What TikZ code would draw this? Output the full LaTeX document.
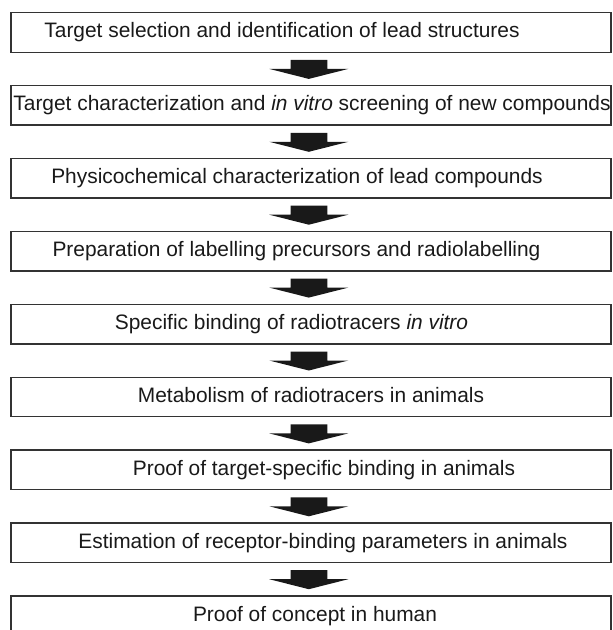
\documentclass[tikz,border=0pt]{standalone}
\usepackage{fontspec}
\setmainfont{Liberation Sans}
\usepackage{tikz}
\usetikzlibrary{calc,positioning}

% move the text of a box sideways, keeping the box centred
\newcommand{\nudge}[2]{\hspace*{#1}#2\hspace*{-#1}}

\tikzset{
	stagebox/.style={draw=black!80,line width=1.4pt,minimum width=600pt,minimum height=39.5pt,inner sep=0pt,text height=15.3pt,text depth=4.4pt,text=black!90},
	blockarrow/.style={fill=black!90,to path={
		($(\tikztostart.south)+(-20.3,-7)$) -- ($(\tikztostart.south)+(16.3,-7)$) -- ($(\tikztostart.south)+(16.3,-16)$) -- ($(\tikztostart.south)+(37.3,-16)$)
		-- ($(\tikztotarget.north)+(-2.2,6)$)
		-- ($(\tikztostart.south)+(-41.7,-16)$) -- ($(\tikztostart.south)+(-20.3,-16)$) -- cycle}}
}

\begin{document}
\begin{tikzpicture}[x=1pt,y=1pt,font=\fontsize{20.9}{25}\selectfont]
	\useasboundingbox (0,0) rectangle (613,-630);

	\node[stagebox] (select) at (311,-32.45) {\nudge{-29pt}{Target selection and identification of lead structures}};
	\node[stagebox] (screen) at (311,-105.35) {\nudge{1pt}{Target characterization and \textit{in vitro} screening of new compounds}};
	\node[stagebox] (physchem) at (311,-178.25) {\nudge{-14pt}{Physicochemical characterization of lead compounds}};
	\node[stagebox] (labelling) at (311,-251.15) {\nudge{-14.5pt}{Preparation of labelling precursors and radiolabelling}};
	\node[stagebox] (binding) at (311,-324.05) {\nudge{-19.5pt}{Specific binding of radiotracers \textit{in vitro}}};
	\node[stagebox] (metab) at (311,-396.95) {Metabolism of radiotracers in animals};
	\node[stagebox] (proof) at (311,-469.85) {\nudge{13pt}{Proof of target-specific binding in animals}};
	\node[stagebox] (params) at (311,-542.75) {\nudge{12pt}{Estimation of receptor-binding parameters in animals}};
	\node[stagebox] (human) at (311,-615.65) {\nudge{4pt}{Proof of concept in human}};

	\path[blockarrow] (select) to (screen);
	\path[blockarrow] (screen) to (physchem);
	\path[blockarrow] (physchem) to (labelling);
	\path[blockarrow] (labelling) to (binding);
	\path[blockarrow] (binding) to (metab);
	\path[blockarrow] (metab) to (proof);
	\path[blockarrow] (proof) to (params);
	\path[blockarrow] (params) to (human);
\end{tikzpicture}
\end{document}
